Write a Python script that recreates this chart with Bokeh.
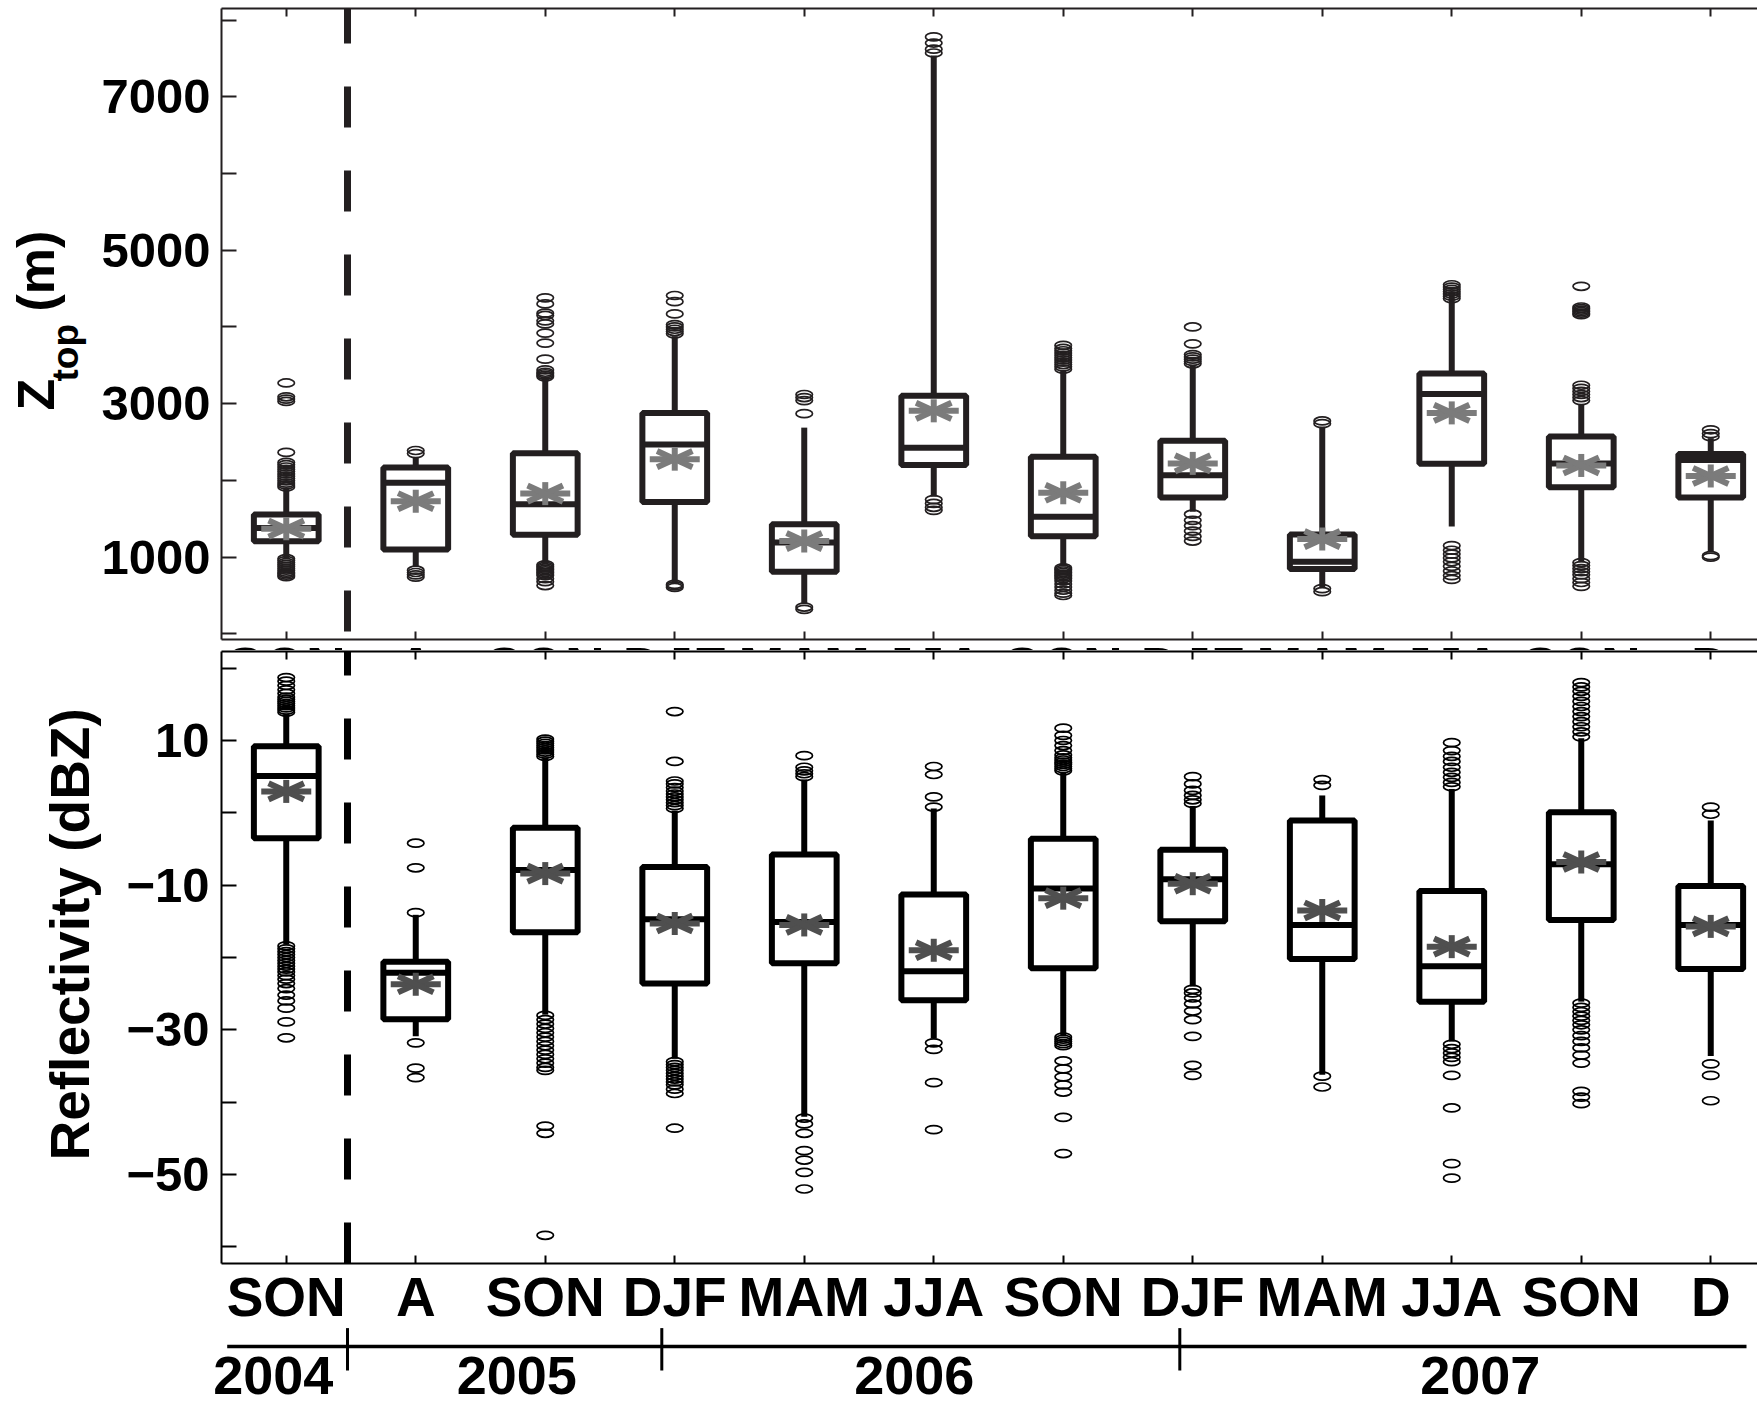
from bokeh.plotting import figure
from bokeh.models import Range1d, LinearAxis, FixedTicker, ColumnDataSource
from bokeh.layouts import column
from bokeh.embed import file_html
from bokeh.resources import INLINE
from bokeh.core.properties import value

# ---------------------------------------------------------------- data
seasons = ["SON", "A", "SON", "DJF", "MAM", "JJA", "SON", "DJF", "MAM", "JJA", "SON", "D"]
years = ["2004", "2005", "2006", "2007"]
year_centers = [-0.10, 1.78, 4.85, 9.22]      # label position of each year (season index units)
year_bounds = [0.473, 2.90, 6.90]             # boundaries between years

# cloud-top height Z_top (m)
ztop_lo = [990, 880, 907, 660, 400, 1790, 880, 1592, 606, 1400, 935, 1072]
ztop_q1 = [1206, 1099, 1291, 1718, 809, 2200, 1274, 1778, 847, 2217, 1910, 1778]
ztop_med = [1380, 1970, 1691, 2469, 1192, 2425, 1526, 2069, 940, 3126, 2222, 2266]
ztop_q3 = [1555, 2168, 2354, 2880, 1428, 3104, 2310, 2518, 1296, 3395, 2573, 2343]
ztop_hi = [1900, 2305, 3346, 3880, 2688, 7537, 3430, 3510, 2700, 4414, 2990, 2551]
ztop_mean = [1371, 1729, 1828, 2277, 1209, 2907, 1839, 2222, 1236, 2880, 2195, 2058]
ztop_out = [
    [3270, 3090, 3060, 3030, 2365, 2235, 2205, 2175, 2145, 2115, 2085, 2055, 2025, 1995, 1965, 1940, 1915,
     980, 955, 930, 905, 880, 855, 830, 805, 785, 765, 745],
    [2390, 2350, 830, 800, 770, 740],
    [4380, 4300, 4180, 4150, 4080, 4040, 3920, 3790, 3580, 3440, 3410, 3390, 3370, 3350,
     900, 880, 860, 840, 820, 800, 780, 760, 720, 680, 630],
    [4410, 4330, 4170, 4030, 4000, 3970, 3940, 3910, 645, 625, 605],
    [3120, 3080, 3040, 2870, 350, 320],
    [7780, 7700, 7620, 7570, 1750, 1700, 1650, 1610],
    [3760, 3720, 3690, 3660, 3630, 3600, 3570, 3540, 3510, 3480, 3450,
     860, 840, 820, 800, 780, 760, 740, 720, 690, 650, 610, 570, 530, 500],
    [4000, 3780, 3640, 3610, 3580, 3550, 3520, 1560, 1480, 1410, 1340, 1270, 1210],
    [2775, 2740, 590, 550],
    [4550, 4520, 4490, 4460, 4430, 4400, 4370, 1150, 1090, 1040, 990, 940, 880, 820, 760, 710],
    [4530, 4260, 4240, 4220, 4200, 4180, 4160, 3240, 3200, 3160, 3120, 3080, 3040,
     930, 890, 850, 810, 770, 720, 670, 620],
    [2660, 2610, 2570, 1020, 1000],
]

# reflectivity (dBZ)
refl_lo = [-18.2, -30.9, -27.9, -34.0, -42.0, -31.2, -30.9, -24.0, -36.2, -31.6, -26.1, -33.6]
refl_q1 = [-3.5, -28.55, -16.5, -23.6, -20.8, -25.9, -21.5, -15.0, -20.2, -26.1, -14.8, -21.6]
refl_med = [5.1, -22.1, -7.9, -14.7, -15.1, -21.9, -10.45, -9.2, -15.5, -21.2, -7.1, -15.5]
refl_q3 = [9.2, -20.6, -2.07, -7.5, -5.76, -11.3, -3.6, -5.1, -1.06, -10.8, 0.08, -10.1]
refl_hi = [13.7, -14.1, 7.65, 0.3, 4.6, 0.6, 5.6, 0.95, 2.4, 3.3, 10.3, -1.06]
refl_mean = [2.96, -23.7, -8.4, -15.3, -15.5, -19.0, -11.8, -9.8, -13.5, -18.5, -6.8, -15.7]
refl_out = [
    [18.7, 18.2, 17.6, 17.0, 16.5, 16.0, 15.7, 15.4, 15.1, 14.8, 14.5, 14.2, 13.9,
     -18.4, -18.8, -19.2, -19.6, -20.0, -20.4, -20.8, -21.2, -21.6, -22.0, -22.5, -23.0, -23.6,
     -24.3, -25.2, -26.0, -27.0, -28.9, -31.1],
    [-4.2, -7.6, -13.8, -31.8, -35.3, -36.6],
    [10.2, 9.9, 9.6, 9.3, 9.0, 8.7, 8.4, 8.1, 7.8,
     -28.0, -28.6, -29.2, -29.8, -30.4, -31.0, -31.6, -32.2, -32.8, -33.4, -34.0, -34.6, -35.2, -35.6,
     -43.3, -44.3, -58.4],
    [14.0, 7.1, 4.4, 4.0, 3.5, 3.0, 2.6, 2.2, 1.8, 1.4, 1.0, 0.6,
     -34.4, -34.8, -35.2, -35.6, -36.0, -36.4, -36.8, -37.2, -37.6, -38.2, -38.8, -43.6],
    [7.9, 6.3, 5.8, 5.4, 5.0, -42.2, -43.0, -44.3, -46.7, -48.0, -49.7, -52.0],
    [6.4, 5.3, 2.2, 0.8, -31.8, -32.7, -37.3, -43.8],
    [11.7, 10.7, 10.0, 9.3, 8.6, 8.0, 7.6, 7.3, 7.0, 6.7, 6.4, 6.1, 5.8,
     -31.0, -31.3, -31.6, -31.9, -32.2, -34.3, -35.4, -36.5, -37.6, -38.6, -42.1, -47.1],
    [5.0, 4.0, 3.1, 2.4, 1.8, 1.3, -24.4, -24.9, -25.6, -26.4, -27.4, -28.6, -30.9, -34.9, -36.3],
    [4.6, 3.8, -36.4, -37.9],
    [9.7, 8.6, 7.8, 7.1, 6.3, 5.6, 4.9, 4.2, 3.6,
     -32.0, -32.6, -33.2, -33.8, -34.4, -36.3, -40.8, -48.5, -50.5],
    [18.0, 17.4, 16.8, 16.1, 15.4, 14.7, 14.0, 13.3, 12.6, 11.9, 11.2, 10.5,
     -26.3, -26.9, -27.5, -28.1, -28.7, -29.3, -30.0, -30.8, -31.6, -32.5, -33.5, -34.6,
     -38.5, -39.3, -40.2],
    [0.8, -0.2, -34.7, -36.3, -39.8],
]

# ---------------------------------------------------------------- layout / style
FONT = "Liberation Sans"
INK_TOP = "#231f20"
INK_BOT = "#000000"
STAR_TOP = "#7b7b7b"
STAR_BOT = "#4f4f4f"

WIDTH = 1757
FRAME_LEFT = 221
PX_PER_SEASON = 129.5
X_START = -0.5
X_END = X_START + (WIDTH - FRAME_LEFT) / PX_PER_SEASON

TOP_H, TOP_BT, TOP_BB = 650, 8, 11
ZT_RANGE = (-73, 8150)
BOT_H, BOT_BT, BOT_BB = 752, 1, 139
DBZ_RANGE = (-62.3, 22.3)

BOX_HALF = 0.25
ROT = 1.5707963
EM_MID = 0.3465   # distance from baseline to middle of the em box, in em


def season_at(px):
    return X_START + (px - FRAME_LEFT) / PX_PER_SEASON


def units_per_px(rng, frame_h):
    return (rng[1] - rng[0]) / frame_h


zt_upp = units_per_px(ZT_RANGE, TOP_H - TOP_BT - TOP_BB)
dbz_upp = units_per_px(DBZ_RANGE, BOT_H - BOT_BT - BOT_BB)


def top_val(py):
    return ZT_RANGE[1] - (py - TOP_BT) * zt_upp


def bot_val(py):
    return DBZ_RANGE[1] - (py - TOP_H - BOT_BT) * dbz_upp


def panel(height, yr, bt, bb):
    p = figure(width=WIDTH, height=height, x_range=Range1d(X_START, X_END), y_range=Range1d(*yr),
               x_axis_type=None, y_axis_type=None, output_backend="svg", toolbar_location=None,
               min_border_left=FRAME_LEFT, min_border_right=0, min_border_top=bt, min_border_bottom=bb)
    p.outline_line_color = None
    p.background_fill_color = "white"
    p.border_fill_color = "white"
    return p


def season_axis(p, place, ink, labels=False):
    ax = LinearAxis(ticker=FixedTicker(ticks=list(range(len(seasons)))))
    ax.axis_line_color = ink
    ax.axis_line_width = 2
    ax.major_tick_line_color = ink
    ax.major_tick_line_width = 2
    ax.major_tick_in = 8
    ax.major_tick_out = 0
    ax.minor_tick_line_color = None
    if labels:
        ax.major_label_overrides = {i: s for i, s in enumerate(seasons)}
        ax.major_label_text_font = FONT
        ax.major_label_text_font_style = "bold"
        ax.major_label_text_font_size = "55px"
        ax.major_label_text_color = "black"
        ax.major_label_standoff = 2
    else:
        ax.major_label_overrides = {i: "" for i in range(len(seasons))}
        ax.major_label_text_font_size = "0px"
        ax.major_label_standoff = 0
    p.add_layout(ax, place)


def value_axis(p, ink, major, minor, overrides, standoff):
    ax = LinearAxis(ticker=FixedTicker(ticks=major, minor_ticks=minor))
    ax.axis_line_color = ink
    ax.axis_line_width = 2
    ax.major_tick_line_color = ink
    ax.minor_tick_line_color = ink
    ax.major_tick_line_width = 2
    ax.minor_tick_line_width = 2
    ax.major_tick_in = 15
    ax.major_tick_out = 0
    ax.minor_tick_in = 15
    ax.minor_tick_out = 0
    ax.major_label_overrides = overrides
    ax.major_label_text_font = FONT
    ax.major_label_text_font_style = "bold"
    ax.major_label_text_font_size = "49px"
    ax.major_label_text_color = "black"
    ax.major_label_standoff = standoff
    p.add_layout(ax, "left")


def outside_text(p, x, y, text, size, angle=0.0, align="left"):
    # drawn at overlay level so the text may sit outside the data frame
    p.text(x=x, y=y, text=text, angle=angle, text_align=align, text_baseline="middle",
           text_font=value(FONT), text_font_style="bold", text_font_size=f"{size}px",
           text_color="black", level="overlay")


def boxes(p, lo, q1, med, q3, hi, mean, outliers, ink, star, upp, yr, dash_offset):
    xs = list(range(len(seasons)))
    src = ColumnDataSource(dict(
        x=xs, left=[x - BOX_HALF for x in xs], right=[x + BOX_HALF for x in xs],
        lo=lo, q1=q1, med=med, q3=q3, hi=hi, mean=mean))
    # dashed boundary between the 2004 and 2005 seasons
    bx = year_bounds[0]
    p.segment(x0=[bx], y0=[yr[0]], x1=[bx], y1=[yr[1]], line_color=ink, line_width=7,
              line_dash="41 43", line_dash_offset=dash_offset)
    # whiskers
    p.segment(x0="x", y0="q3", x1="x", y1="hi", source=src, line_color=ink, line_width=6, line_cap="butt")
    p.segment(x0="x", y0="q1", x1="x", y1="lo", source=src, line_color=ink, line_width=6, line_cap="butt")
    # boxes and medians
    p.quad(left="left", right="right", bottom="q1", top="q3", source=src,
           fill_color="white", line_color=ink, line_width=6)
    p.segment(x0="left", y0="med", x1="right", y1="med", source=src, line_color=ink, line_width=6)
    # mean as a wide asterisk
    hw, hh = 25 / PX_PER_SEASON, 11.5 * upp
    dw, dh = 17.7 / PX_PER_SEASON, 8.1 * upp
    x0s, y0s, x1s, y1s = [], [], [], []
    for x, m in zip(xs, mean):
        for ax_, ay_ in ((hw, 0), (0, hh), (dw, dh), (dw, -dh)):
            x0s.append(x - ax_); y0s.append(m - ay_); x1s.append(x + ax_); y1s.append(m + ay_)
    p.segment(x0=x0s, y0=y0s, x1=x1s, y1=y1s, line_color=star, line_width=6, line_cap="butt")
    # outliers
    ox, oy = [], []
    for x, vals in zip(xs, outliers):
        ox += [x] * len(vals)
        oy += vals
    p.ellipse(x=ox, y=oy, width=16.5 / PX_PER_SEASON, height=8 * upp,
              fill_color=None, line_color=ink, line_width=1.7)


# ---------------------------------------------------------------- top panel: Z_top
top = panel(TOP_H, ZT_RANGE, TOP_BT, TOP_BB)
value_axis(top, INK_TOP, [1000, 3000, 5000, 7000], [0, 2000, 4000, 6000, 8000], {}, 11)
season_axis(top, "above", INK_TOP)
season_axis(top, "below", INK_TOP)
boxes(top, ztop_lo, ztop_q1, ztop_med, ztop_q3, ztop_hi, ztop_mean, ztop_out,
      INK_TOP, STAR_TOP, zt_upp, ZT_RANGE, 76)

# rotated axis title: baselines at x = 53.5 (Z, (m)) and 78.3 (subscript)
for txt, base_x, start_y, size in (("Z", 53.5, 410, 52), ("top", 78.3, 381, 37), ("(m)", 53.5, 311, 52)):
    outside_text(top, [season_at(base_x - EM_MID * size)], [top_val(start_y)], [txt], size, angle=ROT)

# season names of the upper panel, mostly hidden under the lower panel
outside_text(top, list(range(len(seasons))), [top_val(686 - EM_MID * 55)] * len(seasons),
             seasons, 55, align="center")

# ---------------------------------------------------------------- bottom panel: reflectivity
bot = panel(BOT_H, DBZ_RANGE, BOT_BT, BOT_BB)
value_axis(bot, INK_BOT, [-50, -30, -10, 10], [-60, -40, -20, 0, 20],
           {-50: "\u221250", -30: "\u221230", -10: "\u221210", 10: "10"}, 12)
season_axis(bot, "above", INK_BOT)
season_axis(bot, "below", INK_BOT, labels=True)
boxes(bot, refl_lo, refl_q1, refl_med, refl_q3, refl_hi, refl_mean, refl_out,
      INK_BOT, STAR_BOT, dbz_upp, DBZ_RANGE, 0)

outside_text(bot, [season_at(89 - EM_MID * 55)], [bot_val(1160)], ["Reflectivity (dBZ)"], 55, angle=ROT)

# year row under the season names
bot.segment(x0=[season_at(226.7)], y0=[bot_val(1346)], x1=[season_at(1746)], y1=[bot_val(1346)],
            line_color="black", line_width=3.5, level="overlay")
bot.segment(x0=year_bounds, y0=[bot_val(1327.6)] * 3, x1=year_bounds, y1=[bot_val(1370)] * 3,
            line_color="black", line_width=3, level="overlay")
outside_text(bot, year_centers, [bot_val(1394 - EM_MID * 54)] * 4, years, 54, align="center")

layout = column(top, bot, spacing=0)
open("out.html", "w").write(file_html(layout, INLINE))
